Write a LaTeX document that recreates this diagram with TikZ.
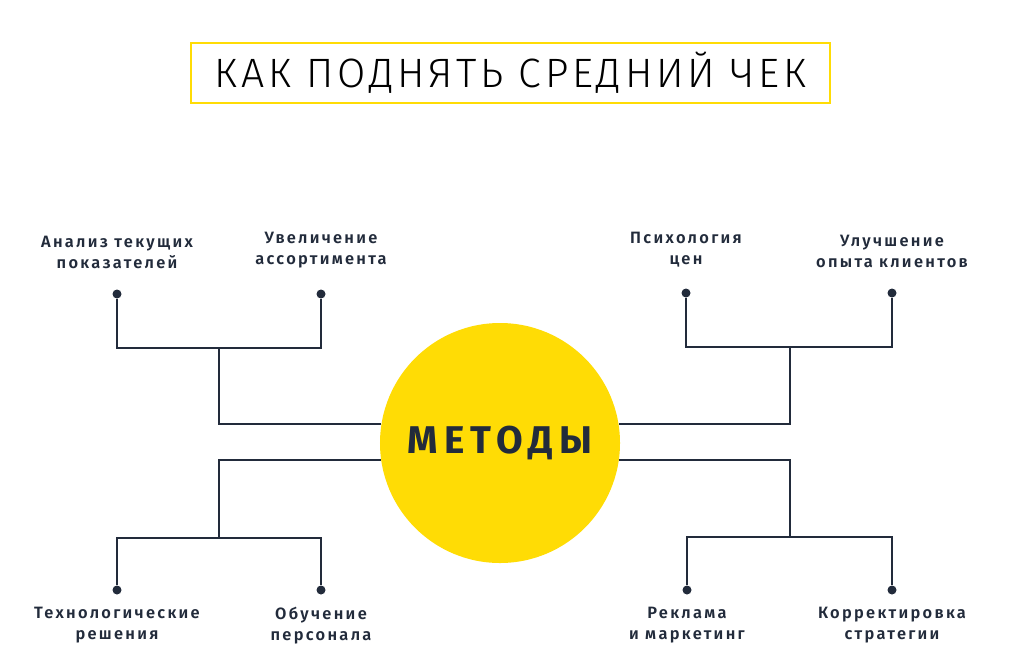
\documentclass[tikz,border=0pt]{standalone}
\usepackage{fontspec}
\setmainfont{Fira Sans}
\newfontfamily\titlefont[LetterSpace=9]{Fira Sans Light}
\newfontfamily\labelfont[LetterSpace=14]{Fira Sans SemiBold}
\newfontfamily\hubfont[LetterSpace=16]{Fira Sans Bold}
\usetikzlibrary{positioning}
\definecolor{ink}{HTML}{222B3B}
\definecolor{sun}{HTML}{FFDC05}
\tikzset{
	dot/.style = {circle, fill=ink, inner sep=0pt, minimum size=0.27cm},
	lbl/.style = {align=center, text=ink, inner sep=0pt,
	 font=\labelfont\fontsize{14}{18}\selectfont},
	wire/.style = {draw=ink, line width=1.7pt}
	}
\begin{document}
\begin{tikzpicture}[x=0.03cm, y=-0.03cm, node distance=0.62cm]
\useasboundingbox (0,0) rectangle (1023,664);

% NODES
\node (title) [draw=sun, line width=1.5pt, minimum width=19.17cm, minimum height=1.8cm,
 font=\titlefont\fontsize{35}{40}\selectfont] at (510.5,73) {КАК ПОДНЯТЬ СРЕДНИЙ ЧЕК};
\node (meth) [circle, fill=sun, minimum size=7.2cm, text=ink,
 font=\hubfont\fontsize{33}{36}\selectfont] at (500,443) {МЕТОДЫ};

\node (d1) [dot] at (117,294) {};
\node (d2) [dot] at (321,294) {};
\node (d3) [dot] at (686,293) {};
\node (d4) [dot] at (892,293) {};
\node (d5) [dot] at (117,590) {};
\node (d6) [dot] at (321,590) {};
\node (d7) [dot] at (687,590) {};
\node (d8) [dot] at (892,590) {};

\node (l1) [lbl, above=of d1] {Анализ текущих\\показателей};
\node (l2) [lbl, above=of d2] {Увеличение\\ассортимента};
\node (l3) [lbl, above=of d3] {Психология\\цен};
\node (l4) [lbl, above=of d4] {Улучшение\\опыта клиентов};
\node (l5) [lbl, below=0.36cm of d5] {Технологические\\решения};
\node (l6) [lbl, below=0.36cm of d6] {Обучение\\персонала};
\node (l7) [lbl, below=0.36cm of d7] {Реклама\\и маркетинг};
\node (l8) [lbl, below=0.36cm of d8] {Корректировка\\стратегии};

\coordinate (j1) at (219,348);
\coordinate (j2) at (790,347);
\coordinate (j3) at (219,538);
\coordinate (j4) at (790,537);

%CONNECTIONS
\draw [wire] (d1) |- (j1) -| (d2);
\draw [wire] (d3) |- (j2) -| (d4);
\draw [wire] (d5) |- (j3) -| (d6);
\draw [wire] (d7) |- (j4) -| (d8);
\draw [wire] (j1) |- (meth.171);
\draw [wire] (j2) |- (meth.9);
\draw [wire] (j3) |- (meth.188);
\draw [wire] (j4) |- (meth.352);

\end{tikzpicture}
\end{document}
